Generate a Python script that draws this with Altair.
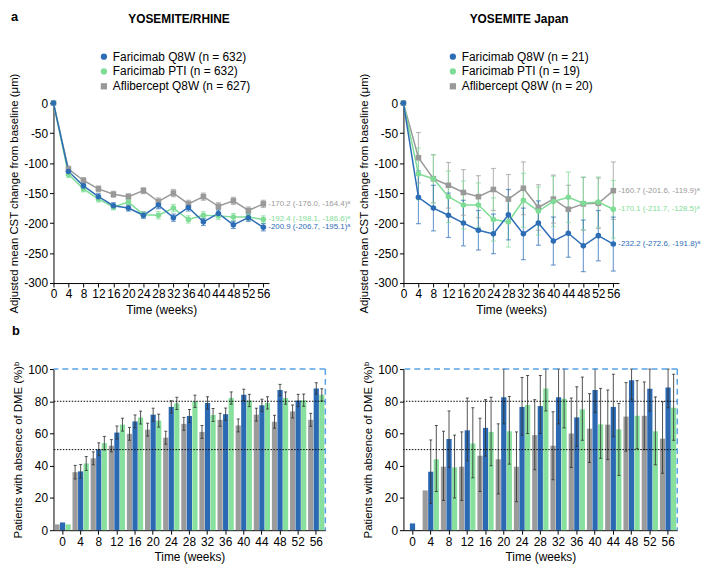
import altair as alt
import pandas as pd

weeks = [0, 4, 8, 12, 16, 20, 24, 28, 32, 36, 40, 44, 48, 52, 56]

# ---- Panel a: YOSEMITE/RHINE (adjusted mean CST change) ----
yr_labels = ["Faricimab Q8W (n = 632)", "Faricimab PTI (n = 632)", "Aflibercept Q8W (n = 627)"]
yr_q8w = [0, -114, -138, -156, -171, -175, -187, -170, -191, -174, -198, -184, -203, -191, -207]
yr_pti = [0, -119, -143, -160, -173, -165, -186, -187, -175, -194, -187, -188, -190, -190, -194]
yr_afl = [0, -110, -129, -143, -152, -156, -146, -164, -150, -168, -156, -172, -163, -179, -168]
yr_q8w_ci = [0, 5, 5, 5, 5, 5, 5, 6, 6, 6, 6, 6, 6, 6, 6]
yr_pti_ci = [0, 5, 5, 5, 5, 5, 5, 6, 6, 6, 6, 6, 6, 6, 6]
yr_afl_ci = [0, 5, 5, 5, 5, 5, 5, 6, 6, 6, 6, 6, 6, 6, 6]
yr_end = ["-200.9 (-206.7, -195.1)ᵃ", "-192.4 (-198.1, -186.6)ᵃ", "-170.2 (-176.0, -164.4)ᵃ"]

# ---- Panel a: YOSEMITE Japan ----
jp_labels = ["Faricimab Q8W (n = 21)", "Faricimab PTI (n = 19)", "Aflibercept Q8W (n = 20)"]
jp_q8w = [0, -157, -175, -187, -200, -212, -218, -186, -218, -200, -230, -217, -238, -221, -235]
jp_pti = [0, -118, -126, -156, -170, -170, -194, -198, -162, -180, -164, -157, -167, -165, -177]
jp_afl = [0, -91, -126, -137, -149, -156, -144, -160, -142, -174, -160, -177, -168, -167, -146]
jp_q8w_ci = [0, 44, 38, 37, 38, 33, 33, 42, 43, 37, 40, 40, 43, 42, 45]
jp_pti_ci = [0, 43, 40, 43, 40, 37, 36, 42, 45, 40, 42, 42, 44, 42, 48]
jp_afl_ci = [0, 42, 40, 38, 38, 35, 35, 41, 44, 38, 40, 40, 44, 42, 48]
jp_end = ["-232.2 (-272.6, -191.8)ᵃ", "-170.1 (-211.7, -128.5)ᵃ", "-160.7 (-201.6, -119.9)ᵃ"]

# ---- Panel b: patients with absence of DME (%) ----
arms = ["Aflibercept Q8W", "Faricimab Q8W", "Faricimab PTI"]
yrb_afl = [3.6, 36, 44.6, 52.4, 59.8, 62.4, 57.4, 66, 61, 68.5, 65, 71.7, 67.3, 73.7, 68.5]
yrb_q8w = [4.8, 36.5, 50.2, 60.6, 67.5, 71.7, 76.5, 70.9, 79, 72, 84, 77.5, 87, 80.5, 88]
yrb_pti = [3.6, 41.4, 54, 65.5, 69.9, 68, 78.7, 80, 71.5, 82, 80.5, 79, 82, 80.7, 84]
yrb_afl_ci = [0, 4.2, 4, 3.8, 4, 4, 4, 4, 4, 4, 4, 4, 4, 4, 4]
yrb_q8w_ci = [0, 4.2, 4, 4, 4, 4, 3.8, 4, 3.8, 3.8, 3.5, 3.8, 3.5, 3.8, 3.5]
yrb_pti_ci = [0, 4.3, 4.2, 4, 4, 4, 3.8, 3.8, 4, 3.8, 3.8, 3.8, 3.8, 3.8, 3.8]

jpb_afl = [0, 24.7, 39.4, 39.4, 46.2, 44, 39.4, 59, 52.4, 60, 63, 65.5, 70.5, 71, 56.8]
jpb_afl_lo = [None, None, 18.5, 18.5, 24, 22.5, 17.7, 37.5, 31.3, 39, 42, 43.8, 49, 50, 35.3]
jpb_afl_hi = [None, None, 61.4, 61, 69.5, 66, 61, 81, 73.5, 82, 84.7, 87, 91.6, 92, 79.7]
jpb_q8w = [4.2, 36.3, 56.6, 62, 63.5, 82.5, 76.5, 77, 82.5, 70, 87, 76.5, 93, 87.8, 88.5]
jpb_q8w_lo = [None, 16.5, 39, 43, 46, 66, 59, 60, 66, 52, 73, 58, 81, 74, 76]
jpb_q8w_hi = [None, 56, 74, 82, 81, 100, 94.8, 96, 100, 89, 100, 96.8, 100, 100, 100]
jpb_pti = [0, 44, 39, 53.8, 61, 61.4, 77.7, 88, 81.5, 75, 65.7, 62.6, 71, 61.4, 76]
jpb_pti_lo = [None, 24, 20, 32.5, 40, 41, 60, 74, 63.5, 55.8, 44.6, 34, 50.6, 40.6, 55.8]
jpb_pti_hi = [None, 65, 59, 76, 82.5, 83, 96, 100, 100, 95, 88, 78.7, 92.8, 82.7, 96.8]

ref_levels = [80, 50]
box_level = [100]

BLUE = "#2c6db5"
GREEN = "#7fdc96"
GRAY = "#999999"
BAR_COLORS = ["#9b9b9b", "#2b6ab3", "#88e09e"]
DASH_BLUE = "#5aa2e8"
FONT = "Liberation Sans"

H1, H2 = 182, 163
W_LINE = 218
W_BAR_L, W_BAR_R = 275, 277


def x_line_axis():
    return alt.Axis(values=weeks, title="Time (weeks)", titleFontSize=12, titlePadding=5,
                    labelFontSize=12, labelPadding=2, tickSize=4, labelOverlap=False,
                    labelFlush=False, grid=False)


def y_line_axis():
    return alt.Axis(values=list(range(-300, 1, 50)),
                    title="Adjusted mean CST change from baseline (μm)",
                    titleFontSize=11.5, titlePadding=4, labelFontSize=12, labelPadding=2,
                    tickSize=4, labelExpr="datum.value + ''", labelFlush=False, grid=False)


def text_layer(txt, x, y, size, weight="bold", align="center", baseline="middle"):
    return alt.Chart(pd.DataFrame({"t": [txt]})).mark_text(
        fontSize=size, fontWeight=weight, align=align, baseline=baseline, color="black"
    ).encode(text="t:N", x=alt.value(x), y=alt.value(y))


def line_panel(labels, vals, cis, ends, title, title_x, legend_x, width, letter=None):
    rows = []
    for i in [2, 1, 0]:
        for w, v, c in zip(weeks, vals[i], cis[i]):
            rows.append({"week": w, "value": v, "lo": v - c, "hi": v + c, "series": labels[i]})
    df = pd.DataFrame(rows)
    xs = alt.Scale(domain=[0, 57.5], nice=False, zero=False)
    ys = alt.Scale(domain=[-300, 0], nice=False)

    def X(f):
        return alt.X(f, type="quantitative", scale=xs, axis=x_line_axis())

    def Y(f):
        return alt.Y(f, type="quantitative", scale=ys, axis=y_line_axis())

    cscale = alt.Scale(domain=labels, range=[BLUE, GREEN, GRAY])
    leg = alt.Legend(orient="none", legendX=legend_x, legendY=-53, title=None,
                     labelFontSize=12, labelFont=FONT, symbolSize=40, rowPadding=3,
                     padding=0, labelOffset=3, symbolStrokeWidth=0, symbolOpacity=1,
                     labelLimit=0)
    col = alt.Color("series:N", scale=cscale, legend=leg)
    shp = alt.Shape("series:N", scale=alt.Scale(domain=labels, range=["circle", "circle", "square"]),
                    legend=leg)
    base = alt.Chart(df)
    err = base.mark_rule(strokeWidth=1.2, opacity=0.65).encode(
        x=X("week"), y=Y("lo"), y2="hi:Q", color=col)
    cap_lo = base.mark_tick(orient="horizontal", size=5, thickness=1.2, opacity=0.65).encode(
        x=X("week"), y=Y("lo"), color=col)
    cap_hi = base.mark_tick(orient="horizontal", size=5, thickness=1.2, opacity=0.65).encode(
        x=X("week"), y=Y("hi"), color=col)
    line = base.mark_line(strokeWidth=1.5).encode(x=X("week"), y=Y("value"), color=col)
    pts = base.mark_point(filled=True, size=32, opacity=1).encode(
        x=X("week"), y=Y("value"), color=col, shape=shp)
    end_df = pd.DataFrame({"week": [56] * 3, "value": [v[-1] for v in vals],
                           "series": labels, "text": ends})
    end = alt.Chart(end_df).mark_text(align="left", baseline="middle", dx=5, fontSize=8).encode(
        x=X("week"), y=Y("value"), text="text:N", color=col)
    layers = [err, cap_lo, cap_hi, line, pts, end, text_layer(title, title_x, -85, 12)]
    if letter:
        layers.append(text_layer(letter, -43, -83, 13, align="left", baseline="alphabetic"))
    return alt.layer(*layers).properties(width=width, height=H1)


def bar_panel(vals, los, his, width, letter=None):
    rows = []
    for a, v, lo, hi in zip(arms, vals, los, his):
        for w, p, l, h in zip(weeks, v, lo, hi):
            rows.append({"week": w, "arm": a, "pct": p, "lo": l, "hi": h})
    df = pd.DataFrame(rows)
    xsc = alt.Scale(domain=weeks, paddingInner=0.1, paddingOuter=0.05)
    xax = alt.Axis(title="Time (weeks)", labelAngle=0, titleFontSize=12, titlePadding=5,
                   labelFontSize=12, labelPadding=2, tickSize=4, labelOverlap=False, grid=False)
    X = alt.X("week:O", scale=xsc, axis=xax)
    XO = alt.XOffset("arm:N", scale=alt.Scale(domain=arms, paddingInner=0.06))
    ysc = alt.Scale(domain=[0, 100], nice=False)
    yax = alt.Axis(values=[0, 20, 40, 60, 80, 100], title="Patients with absence of DME (%)ᵇ",
                   titleFontSize=11.5, titlePadding=4, labelFontSize=12, labelPadding=2,
                   tickSize=4, labelFlush=False, grid=False)

    def Y(f):
        return alt.Y(f, type="quantitative", scale=ysc, axis=yax)

    base = alt.Chart(df)
    bars = base.mark_bar().encode(
        x=X, xOffset=XO, y=Y("pct"),
        color=alt.Color("arm:N", scale=alt.Scale(domain=arms, range=BAR_COLORS), legend=None))
    eb = base.transform_filter("isValid(datum.lo)")
    err = eb.mark_rule(color="#333333", strokeWidth=1, opacity=0.85).encode(
        x=X, xOffset=XO, y=Y("lo"), y2="hi:Q")
    cap_lo = eb.mark_tick(orient="horizontal", size=3, thickness=1, color="#333333", opacity=0.85).encode(
        x=X, xOffset=XO, y=Y("lo"))
    cap_hi = eb.mark_tick(orient="horizontal", size=3, thickness=1, color="#333333", opacity=0.85).encode(
        x=X, xOffset=XO, y=Y("hi"))
    refs = alt.Chart(pd.DataFrame({"lvl": ref_levels})).mark_rule(
        color="black", strokeDash=[1.5, 1.5], strokeWidth=1).encode(y=Y("lvl"))
    top = alt.Chart(pd.DataFrame({"lvl": box_level})).mark_rule(
        color=DASH_BLUE, strokeDash=[6, 4], strokeWidth=1.5).encode(y=Y("lvl"))
    right = alt.Chart(pd.DataFrame({"lvl": box_level, "lvl0": [0]})).mark_rule(
        color=DASH_BLUE, strokeDash=[6, 4], strokeWidth=1.5).encode(
        x=alt.value(width), y=Y("lvl"), y2="lvl0:Q")
    layers = [bars, err, cap_lo, cap_hi, refs, top, right]
    if letter:
        layers.append(text_layer(letter, -42, -34, 13, align="left", baseline="alphabetic"))
    return alt.layer(*layers).properties(width=width, height=H2)


def ci_lo(v, c):
    return [None if ci == 0 else a - ci for a, ci in zip(v, c)]


def ci_hi(v, c):
    return [None if ci == 0 else a + ci for a, ci in zip(v, c)]


tl = line_panel(yr_labels, [yr_q8w, yr_pti, yr_afl], [yr_q8w_ci, yr_pti_ci, yr_afl_ci], yr_end,
                "YOSEMITE/RHINE", 127, 45, W_LINE, letter="a")
tr = line_panel(jp_labels, [jp_q8w, jp_pti, jp_afl], [jp_q8w_ci, jp_pti_ci, jp_afl_ci], jp_end,
                "YOSEMITE Japan", 117, 44, W_LINE)

bl = bar_panel([yrb_afl, yrb_q8w, yrb_pti],
               [ci_lo(yrb_afl, yrb_afl_ci), ci_lo(yrb_q8w, yrb_q8w_ci), ci_lo(yrb_pti, yrb_pti_ci)],
               [ci_hi(yrb_afl, yrb_afl_ci), ci_hi(yrb_q8w, yrb_q8w_ci), ci_hi(yrb_pti, yrb_pti_ci)],
               W_BAR_L, letter="b")
br = bar_panel([jpb_afl, jpb_q8w, jpb_pti],
               [jpb_afl_lo, jpb_q8w_lo, jpb_pti_lo],
               [jpb_afl_hi, jpb_q8w_hi, jpb_pti_hi], W_BAR_R)

chart = alt.concat(tl, tr, bl, br, columns=2, bounds="flush", align="all",
                   spacing={"row": 87, "column": 77}).resolve_scale(
    x="independent", y="independent", color="independent", shape="independent"
).properties(padding=0).configure(font=FONT).configure_view(stroke=None).configure_axis(
    domainColor="black", tickColor="black", labelColor="black", titleColor="black",
    titleFontWeight="normal", labelFont=FONT, titleFont=FONT
)

chart.save("out.html", embed_options={"renderer": "svg", "actions": False})
